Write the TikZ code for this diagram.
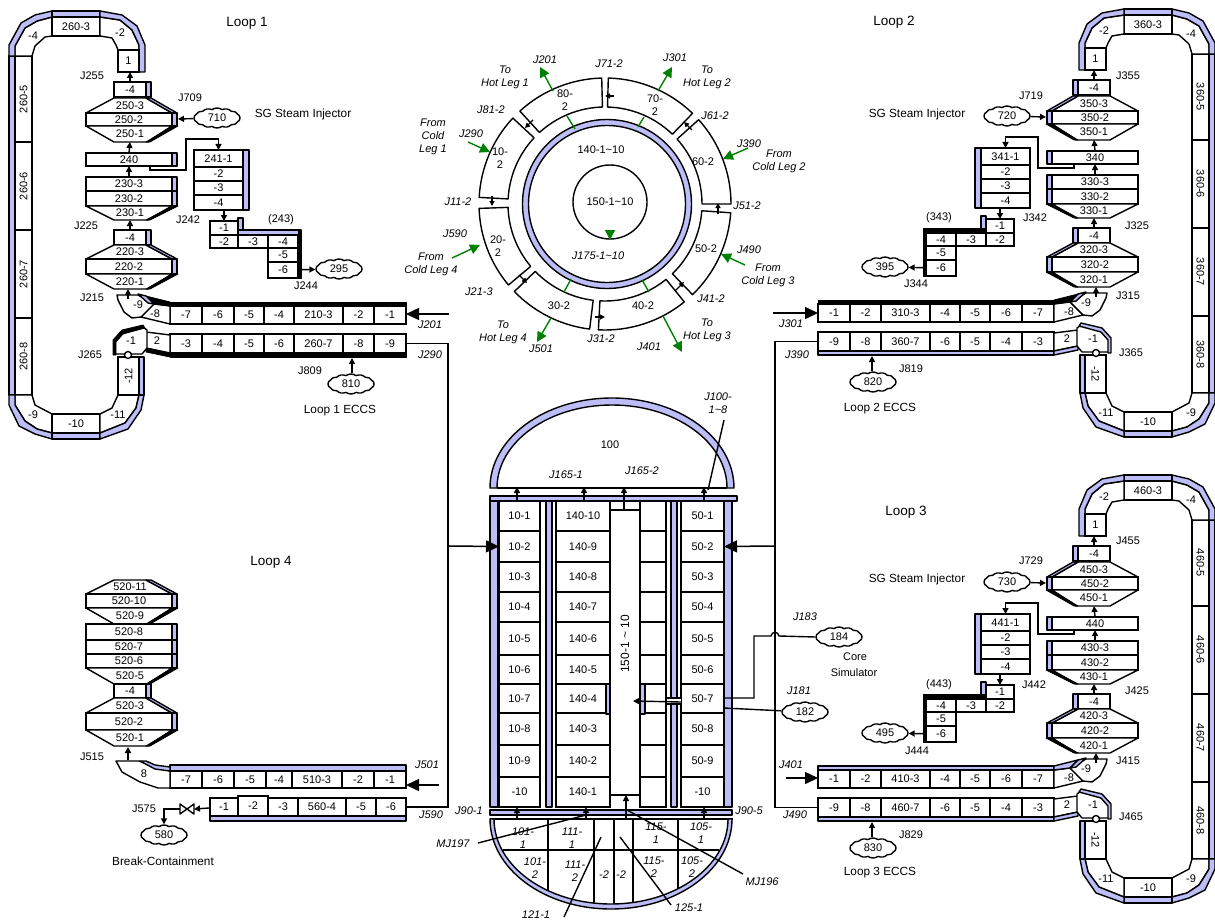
\documentclass[tikz,border=0pt]{standalone}
\usepackage{xcolor}
\usepackage{fontspec}
\setmainfont{Liberation Sans}
\usetikzlibrary{shapes.symbols, arrows.meta}
\definecolor{wallblue}{HTML}{BDBDF7}
\definecolor{flowgreen}{HTML}{008000}

\newcommand{\cellbox}[6]{\node[cellstyle, minimum width={(#4-#2)*1pt}, minimum height={(#5-#3)*1pt}] (#1) at ({(#2+#4)/2},{(#3+#5)/2}) {#6};}
\newcommand{\vcell}[7]{\cellbox{#1}{#2}{#3}{#4}{#5}{}\node[tag, rotate=#7] (#1t) at (#1.center) {#6};}
\newcommand{\piece}[4]{\draw[piecebox] #2 -- cycle; \node[tag] (#1) at (#3) {#4};}
% parts of a steam generator stack, drawn at the x of loop 1
\newcommand{\hextop}[4]{\piece{#1}{(114,#2) -- (146,#2) -- (172,#3) -- (86,#3)}{130,{(#2+#3)/2}}{#4}
  \draw[wall] (146,#2) -- (151,#2) -- (177,#3) -- (172,#3) -- cycle;}
\newcommand{\hexbot}[4]{\piece{#1}{(86,#2) -- (172,#2) -- (148,#3) -- (114,#3)}{130,{(#2+#3)/2}}{#4}
  \draw[heavy] (172,#2) -- (178,#2) -- (150,#3) -- (146,#3) -- cycle;}
\newcommand{\slab}[4]{\cellbox{#1}{86}{#2}{172}{#3}{#4}\draw[wall] (172,#2) rectangle (177,#3);}
\newcommand{\neck}[3]{\cellbox{#1}{114}{#2}{146}{#3}{-4}\draw[wall] (146,#2) rectangle (151,#3);}

% one whole loop; #1 first digit, #2 hot leg strip, #3 cold leg strip, #4 text angle, #5 injector, #6 ECCS, #7 bar of the drain
\newcommand{\sgloop}[7]{
  % U tubes
  \draw[wall] (9,56) rectangle (15,395);
  \foreach \ya/\yb/\t in {56/142/5, 142/230/6, 230/318/7, 318/395/8}
    \vcell{#1u\t}{15}{\ya}{32}{\yb}{#160-\t}{#4};
  \piece{#1ua}{(15,56) -- (15,46) -- (25,28) -- (37,21) -- (52,17) -- (52,36) -- (45,37) -- (35,46) -- (32,56)}{33,36}{-4}
  \draw[wall] (9,56) -- (9,45) -- (21,23) -- (35,15) -- (52,11) -- (52,17) -- (37,21) -- (25,28) -- (15,46) -- (15,56) -- cycle;
  \draw[wall] (52,11) rectangle (100,17);
  \cellbox{#1ub}{52}{17}{100}{36}{#160-3}
  \piece{#1uc}{(100,17) -- (120,20) -- (132,30) -- (139,45) -- (139,50) -- (118,50) -- (116,45) -- (112,38) -- (100,36)}{120,33}{-2}
  \draw[wall] (100,11) -- (122,15) -- (137,26) -- (145,45) -- (145,72) -- (139,72) -- (139,45) -- (132,30) -- (120,20) -- (100,17) -- cycle;
  \cellbox{#1ud}{118}{50}{139}{72}{1}
  \piece{#1ue}{(15,395) -- (32,395) -- (35,405) -- (52,414) -- (52,433) -- (37,429) -- (25,421) -- (15,405)}{33,415}{-9}
  \draw[wall] (9,395) -- (9,405) -- (19,426) -- (35,434) -- (52,439) -- (52,433) -- (37,429) -- (25,421) -- (15,405) -- (15,395) -- cycle;
  \draw[wall] (52,433) rectangle (100,439);
  \cellbox{#1uf}{52}{414}{100}{433}{-10}
  \piece{#1ug}{(100,414) -- (112,408) -- (118,395) -- (139,395) -- (136,408) -- (125,423) -- (100,433)}{118,415}{-11}
  \draw[wall] (144,395) -- (141,410) -- (128,429) -- (100,439) -- (100,433) -- (125,423) -- (136,408) -- (139,395) -- cycle;
  \draw[wall] (139,357) rectangle (144,395);
  \vcell{#1uh}{118}{357}{139}{395}{-12}{#4}
  % stack
  \neck{#1n1}{82}{97}
  \hextop{#1s3}{98}{113}{#150-3}
  \slab{#1s2}{113}{126}{#150-2}
  \hexbot{#1s1}{126}{142}{#150-1}
  \slab{#1k}{153}{166}{#140}
  \slab{#1r3}{177}{191}{#130-3}
  \slab{#1r2}{191}{206}{#130-2}
  \hexbot{#1r1}{206}{220}{#130-1}
  \neck{#1n2}{230}{245}
  \hextop{#1q3}{245}{259}{#120-3}
  \slab{#1q2}{259}{274}{#120-2}
  \hexbot{#1q1}{274}{289}{#120-1}
  % separator drain
  \draw[wall] (243,150) rectangle (249,210);
  \foreach \ya/\yb/\t [count=\i] in {150/167/#141-1, 167/181/-2, 181/195/-3, 195/210/-4}
    \cellbox{#1f\i}{194}{\ya}{243}{\yb}{\t};
  \draw[wall] (238,218) rectangle (243,231);
  \cellbox{#1g1}{210}{221}{238}{235}{-1}
  \cellbox{#1g2}{210}{235}{238}{248}{-2}
  \cellbox{#1g3}{238}{235}{268}{248}{-3}
  \cellbox{#1g4}{268}{235}{298}{248}{-4}
  \cellbox{#1g5}{268}{248}{298}{262}{-5}
  \cellbox{#1g6}{268}{262}{298}{278}{-6}
  \draw[#7] (238,230) rectangle (301,235);
  \node[ecloud] (#1c9) at (339,269) {#195};
  \draw[flow] (#1g6) -- (#1c9);
  \draw[heavy] (298,230) rectangle (301,278);
  % hot leg
  \foreach \xa/\xb/\t [count=\i] in {170/202/-7, 202/234/-6, 234/264/-5, 264/294/-4, 294/343/#110-3, 343/374/-2, 374/406/-1}
    \cellbox{#1h\i}{\xa}{306}{\xb}{324}{\t};
  \draw[#2] (170,302) rectangle (406,306);
  \piece{#1h8}{(154,304) -- (170,306) -- (170,324) -- (141,317)}{155,314}{-8}
  \piece{#1h9}{(117,295) -- (138,295) -- (154,304) -- (141,317) -- (132,318) -- (124,312) -- (118,300)}{138,305}{-9}
  \draw[#2] (146,296) -- (170,302) -- (170,306) -- (154,304) -- cycle;
  \draw[wall] (138,294) -- (146,296) -- (154,304) -- (148,303) -- cycle;
  % cold leg
  \foreach \xa/\xb/\t [count=\i] in {170/202/-3, 202/234/-4, 234/264/-5, 264/294/-6, 294/343/#160-7, 343/374/-8, 374/406/-9}
    \cellbox{#1d\i}{\xa}{334}{\xb}{353}{\t};
  \draw[#3] (170,353) rectangle (406,357);
  \piece{#1d8}{(146,332) -- (170,335) -- (170,353) -- (146,348)}{157,341}{2}
  \draw[#3] (146,348) -- (170,353) -- (170,357) -- (146,352) -- cycle;
  \piece{#1d9}{(115,342) -- (123,332) -- (143,327) -- (147,330) -- (147,348) -- (142,354) -- (115,354)}{131,341}{-1}
  \draw[#3] (113,355) -- (113,340) -- (122,330) -- (143,325) -- (145,328) -- (123,334) -- (116,342) -- (116,355) -- cycle;
  \node[circle, draw, fill=white, line width=1.4pt, minimum size=7pt, inner sep=0pt] (#1v) at (128,355) {};
  % junctions
  \coordinate (#1p1) at (130,142);
  \coordinate (#1p2) at (130,220);
  \coordinate (#1p3) at (128,299);
  \coordinate (#1p4) at (128,289);
  \coordinate (#1p5) at (150,166);
  \coordinate (#1p6) at (178,119);
  \coordinate (#1p7) at (352,358);
  \draw[flow] (#1n1.north) -- (#1n1.north |- #1ud.south);
  \draw[flow] (#1k.north) -- (#1p1);
  \draw[flow] (#1r3.north) -- (#1r3.north |- #1k.south);
  \draw[flow] (#1n2.north) -- (#1p2);
  \draw[flow] (#1p3) -- (#1p4);
  \draw[flow] (#1p5) |- (186,170) -- (186,139) -| (#1f1.north);
  \draw[flow] (#1g1.north |- #1f4.south) -- (#1g1.north);
  \node[ecloud] (#1c7) at (217,118) {#5};
  \draw[flow] (#1c7) -- (#1p6);
  \node[ecloud] (#1c8) at (351,384) {#6};
  \draw[flow] (#1c8.north -| #1p7) -- (#1p7);
}

\begin{document}
\begin{tikzpicture}[x=1pt, y=-1pt]
  \tikzstyle{cellstyle} = [rectangle, draw, fill=white, line width=1.4pt, inner sep=0pt, outer sep=0pt, font=\fontsize{11}{13}\selectfont]
  \tikzstyle{piecebox} = [draw, fill=white, line width=1.4pt, line join=round]
  \tikzstyle{wall} = [draw, fill=wallblue, line width=1.4pt, line join=round]
  \tikzstyle{heavy} = [draw, fill=black, line width=0.8pt, line join=round]
  \tikzstyle{tag} = [inner sep=0pt, font=\fontsize{11}{13}\selectfont, align=center]
  \tikzstyle{jtag} = [tag, font=\fontsize{11}{13}\selectfont\itshape]
  \tikzstyle{note} = [tag, font=\fontsize{11.8}{14}\selectfont]
  \tikzstyle{looptag} = [tag, font=\fontsize{13.5}{16}\selectfont]
  \tikzstyle{ecloud} = [cloud, draw, fill=white, line width=1.4pt, cloud puffs=14, cloud puff arc=70, aspect=2.4, inner sep=0pt, minimum width=46pt, minimum height=20pt, font=\fontsize{11}{13}\selectfont]
  \tikzstyle{flow} = [-{Triangle[length=6pt, width=6pt]}, line width=1.4pt]
  \tikzstyle{bigflow} = [-{Triangle[length=13pt, width=12pt]}, line width=1.5pt]
  \tikzstyle{pipe} = [line width=1.4pt]
  \tikzstyle{leader} = [line width=1.4pt]
  \tikzstyle{greenflow} = [-{Triangle[length=10pt, width=10pt]}, line width=1.4pt, flowgreen]
  \tikzstyle{tickflow} = [-{Triangle[length=5pt, width=5pt]}, line width=1.2pt]

  \useasboundingbox (0,0) rectangle (1215,923);

  % Loop 1
  \sgloop{2}{heavy}{heavy}{90}{710}{810}{wall}
  % Loop 2
  \begin{scope}[shift={(1224,-2)}, xscale=-1]
    \sgloop{3}{heavy}{wall}{-90}{720}{820}{heavy}
  \end{scope}
  % Loop 3
  \begin{scope}[shift={(1224,464)}, xscale=-1]
    \sgloop{4}{wall}{wall}{-90}{730}{830}{heavy}
  \end{scope}

  % Loop 4
  \hextop{pa}{580}{594}{520-11}
  \slab{pb}{594}{608}{520-10}
  \hexbot{pc}{608}{624}{520-9}
  \slab{pd}{624}{640}{520-8}
  \slab{pe}{640}{654}{520-7}
  \slab{pf}{654}{668}{520-6}
  \hexbot{pg}{668}{684}{520-5}
  \neck{ph}{684}{698}
  \hextop{pi}{698}{713}{520-3}
  \slab{pj}{713}{730}{520-2}
  \hexbot{pk}{730}{746}{520-1}
  \foreach \xa/\xb/\t [count=\i] in {170/202/-7, 202/234/-6, 234/266/-5, 266/292/-4, 292/342/510-3, 342/374/-2, 374/406/-1}
    \cellbox{ph\i}{\xa}{771}{\xb}{788}{\t};
  \draw[wall] (170,765) rectangle (406,771);
  \piece{ph8}{(116,761) -- (139,761) -- (155,767) -- (170,771) -- (170,788) -- (158,788) -- (140,782) -- (122,772)}{144,774}{8}
  \draw[wall] (140,761) -- (146,761) -- (155,765) -- (170,767) -- (170,771) -- (155,769) -- cycle;
  \foreach \xa/\xb/\ya/\t [count=\i] in {210/238/798/-1, 238/268/796/-2, 268/298/798/-3, 298/346/798/560-4, 346/376/798/-5, 376/406/798/-6}
    \cellbox{pq\i}{\xa}{\ya}{\xb}{816}{\t};
  \draw[wall] (210,816) rectangle (406,821);
  \draw[piecebox] (180,804) -- (194,814) -- (194,804) -- (180,814) -- cycle;
  \coordinate (pv1) at (194,809);
  \coordinate (pv2) at (180,809);
  \coordinate (pj1) at (128,760);
  \coordinate (pj2) at (128,747);
  \node[ecloud] (p580) at (164,835) {580};
  \draw[flow] (pq1) -- (pv1);
  \draw[flow] (pv2) -| (p580.north);
  \draw[flow] (pj1) -- (pj2);

  % core ring
  \begin{scope}[shift={(605,204)}]
    \foreach \sa/\sb/\i in {182/220/a, 224/263/b, 267/309/c, 314/356/d, 360/402/e, 406/448.5/f, 451.5/492.5/g, 497/537/h}
      \draw[piecebox] (\sa:126pt) arc (\sa:\sb:126pt) -- (\sb:97pt) arc (\sb:\sa:97pt) -- cycle;
  \end{scope}
  \begin{scope}[shift={(607,204)}]
    \draw[wall, even odd rule] (0:84.5pt) arc (0:360:84.5pt) -- cycle (0:78.5pt) arc (0:360:78.5pt) -- cycle;
  \end{scope}
  \node[circle, draw, line width=1.4pt, minimum size=74pt, inner sep=0pt, font=\fontsize{11}{13}\selectfont] (core) at (610,202) {150-1\textasciitilde10};
  \foreach \x/\y/\t [count=\i] in {
      565/100/80-\\2, 655/105/70-\\2, 500/158/10-\\2, 703/162/60-2, 498/246/20-\\2, 706/249/50-2, 559/306/30-2, 643/306/40-2, 601/150/140-1\textasciitilde10, 610/445/100}
    \node[tag] (rt\i) at (\x,\y) {\t};
  \foreach \x/\y/\t [count=\i] in {
      505/77/To\\Hot Leg 1, 545/60/J201, 609/64/J71-2, 675/58/J301, 707/77/To\\Hot Leg 2, 491/110/J81-2, 715/116/J61-2,
      433/137/From\\Cold\\Leg 1, 471/134/J290, 749/144/J390, 779/161/From\\Cold Leg 2, 747/206/J51-2, 458/202/J11-2,
      455/234/J590, 431/264/From\\Cold Leg 4, 598/256/J175-1\textasciitilde10, 749/250/J490, 768/275/From\\Cold Leg 3,
      711/299/J41-2, 479/292/J21-3, 503/332/To\\Hot Leg 4, 541/349/J501, 601/339/J31-2, 649/347/J401, 707/330/To\\Hot Leg 3}
    \node[jtag] (rj\i) at (\x,\y) {\t};
  \foreach \ax/\ay/\bx/\by [count=\i] in {553/91/540/67, 658/91/672/67, 748/148/723/159, 468/142/490/152, 452/258/480/245, 745/265/721/254, 551/318/537/342, 663/316/682/352, 610/230/610/240} {
    \coordinate (ga\i) at (\ax,\ay);
    \coordinate (gb\i) at (\bx,\by);
    \draw[greenflow] (ga\i) -- (gb\i);
  }
  \foreach \ax/\ay/\bx/\by [count=\i] in {567/116/575/129, 644/117/638/127, 571/279/564/292, 642/280/649/292} {
    \coordinate (gc\i) at (\ax,\ay);
    \coordinate (gd\i) at (\bx,\by);
    \draw[line width=1.4pt, flowgreen] (gc\i) -- (gd\i);
  }
  \foreach \ax/\ay/\bx/\by [count=\i] in {614/96/605/96, 692/130/684/122, 718/214/718/203, 675/291/684/282, 595/317/605/317, 519/275/527/283, 492/196/492/206, 533/120/525/128} {
    \coordinate (ta\i) at (\ax,\ay);
    \coordinate (tb\i) at (\bx,\by);
    \draw[tickflow] (ta\i) -- (tb\i);
  }

  % vessel
  \draw[wall] (490,488) arc (180:0:122pt and 90pt) -- (727,488) arc (0:180:115pt and 83pt) -- cycle;
  \draw[line width=1.4pt] (497,488) -- (727,488);
  \foreach \ya/\yb/\a/\b/\c [count=\i] in {500/531/10-1/140-10/50-1, 531/562/10-2/140-9/50-2, 562/592/10-3/140-8/50-3, 592/622/10-4/140-7/50-4, 622/655/10-5/140-6/50-5,
      655/684/10-6/140-5/50-6, 684/713/10-7/140-4/50-7, 713/745/10-8/140-3/50-8, 745/777/10-9/140-2/50-9, 777/807/-10/140-1/-10} {
    \cellbox{va\i}{499}{\ya}{540}{\yb}{\a}
    \cellbox{vb\i}{556}{\ya}{610}{\yb}{\b}
    \cellbox{vs\i}{640}{\ya}{666}{\yb}{}
    \cellbox{vc\i}{681}{\ya}{724}{\yb}{\c}
  }
  \draw[wall] (490,500) rectangle (498,807);
  \draw[wall] (546,500) rectangle (552,807);
  \draw[wall] (671,500) rectangle (677,807);
  \draw[wall] (724,500) rectangle (732,807);
  \draw[wall] (490,496) rectangle (737,501);
  \draw[wall] (490,810) rectangle (732,815);
  \draw[wall] (606,684) rectangle (610,714);
  \draw[wall] (640,684) rectangle (645,714);
  \cellbox{vm}{610}{510}{640}{795}{}
  \node[tag, rotate=90, font=\fontsize{12}{14}\selectfont] (vmt) at (625,644) {150-1 \textasciitilde{} 10};
  \foreach \x/\i in {517/1, 584/2, 704/4} {
    \coordinate (ua\i) at (\x,501);
    \coordinate (ub\i) at (\x,487);
    \draw[flow] (ua\i) -- (ub\i);
  }
  \coordinate (ub3) at (624,487);
  \draw[flow] (vm.north -| ub3) -- (ub3);

  % lower plenum
  \draw[line width=1.4pt] (490,819) -- (733,819);
  \draw[line width=1.4pt] (503,850) -- (719,850);
  \foreach \x/\y in {548/891, 594/904, 614/905, 633/902, 678/890}
    \draw[line width=1.4pt] (\x,819) -- (\x,\y);
  \draw[wall] (490,819) arc (180:360:121pt and 90pt) -- (728,819) arc (360:180:117pt and 85pt) -- cycle;
  \foreach \x/\y/\t [count=\i] in {523/838/101-\\1, 572/838/111-\\1, 656/833/115-\\1, 701/833/105-\\1, 535/868/101-\\2, 575/871/111-\\2,
      604/875/-2, 621/875/-2, 654/867/115-\\2, 692/867/105-\\2}
    \node[jtag] (lp\i) at (\x,\y) {\t};
  \foreach \x/\i in {517/1, 586/2, 704/4} {
    \coordinate (wa\i) at (\x,819);
    \coordinate (wb\i) at (\x,807);
    \draw[flow] (wa\i) -- (wb\i);
  }
  \coordinate (wa3) at (626,819);
  \draw[flow] (wa3) -- (wa3 |- vm.south);

  % leaders
  \foreach \ax/\ay/\bx/\by [count=\i] in {724/420/708/490, 586/815/478/843, 627/810/743/874, 601/837/564/917, 620/837/671/905} {
    \coordinate (la\i) at (\ax,\ay);
    \coordinate (lb\i) at (\bx,\by);
    \draw[leader] (la\i) -- (lb\i);
  }
  \foreach \x/\y/\t [count=\i] in {718/403/J100-\\1\textasciitilde8, 566/475/J165-1, 642/471/J165-2, 469/811/J90-1, 749/811/J90-5,
      453/844/MJ197, 762/882/MJ196, 536/915/121-1, 689/908/125-1, 430/325/J201, 430/355/J290, 791/324/J301, 797/355/J390,
      791/765/J401, 795/815/J490, 427/765/J501, 431/815/J590, 805/617/J183, 799/691/J181}
    \node[jtag] (vj\i) at (\x,\y) {\t};

  % feed lines
  \coordinate (fl) at (448,546);
  \coordinate (fr) at (775,546);
  \draw[pipe] (2d7.east) -| (fl);
  \draw[pipe] (pq6.east) -| (fl);
  \draw[pipe] (3d7.west) -| (fr);
  \draw[pipe] (4d7.west) -| (fr);
  \draw[bigflow] (fl) -- (va2.west);
  \draw[bigflow] (fr) -- (vc2.east);
  \coordinate (i201) at (449,314);
  \coordinate (i301) at (773,313);
  \coordinate (i401) at (786,778);
  \coordinate (i501) at (439,785);
  \draw[bigflow] (i201) -- (i201 -| 2h7.east);
  \draw[bigflow] (i301) -- (i301 -| 3h7.west);
  \draw[bigflow] (i401) -- (i401 -| 4h7.west);
  \draw[bigflow] (i501) -- (i501 -| ph7.east);

  % core simulator lines
  \node[ecloud] (n184) at (839,637) {184};
  \node[ecloud] (n182) at (805,712) {182};
  \draw[pipe] (n184.west) -- (779,636) .. controls (778,631) and (772,631) .. (771,636) -- (754,636) |- (vc7.east |- 732,698);
  \draw[pipe] (n182) -- (724,708);
  \draw[fill=white, draw=none] (667,698) rectangle (681,704);
  \draw[pipe] (667,698) -- (681,698) (667,704) -- (681,704);
  \coordinate (j181) at (633,701);
  \draw[flow] (681,702) -- (j181);

  % loop labels
  \foreach \x/\y/\t [count=\i] in {92/76/J255, 190/98/J709, 86/226/J225, 188/220/J242, 281/220/{(243)}, 306/286/J244, 92/298/J215, 90/355/J265, 310/371/J809,
      1128/76/J355, 1031/96/J719, 1137/226/J325, 1035/218/J342, 939/218/{(343)}, 916/284/J344, 1128/296/J315, 1131/353/J365, 911/369/J819,
      1128/541/J455, 1031/561/J729, 1137/691/J425, 1034/685/J442, 939/685/{(443)}, 917/751/J444, 1128/761/J415, 1131/817/J465, 911/835/J829,
      92/757/J515, 144/809/J575, 855/657/Core, 854/673/Simulator}
    \node[tag] (lt\i) at (\x,\y) {\t};
  \foreach \x/\y/\t [count=\i] in {303/114/SG Steam Injector, 917/114/SG Steam Injector, 917/579/SG Steam Injector, 340/411/Loop 1 ECCS, 880/409/Loop 2 ECCS, 880/873/Loop 3 ECCS, 163/861/Break-Containment}
    \node[note] (nt\i) at (\x,\y) {\t};
  \foreach \x/\y/\t [count=\i] in {247/23/Loop 1, 894/22/Loop 2, 906/512/Loop 3, 271/562/Loop 4}
    \node[looptag] (ll\i) at (\x,\y) {\t};
\end{tikzpicture}
\end{document}
